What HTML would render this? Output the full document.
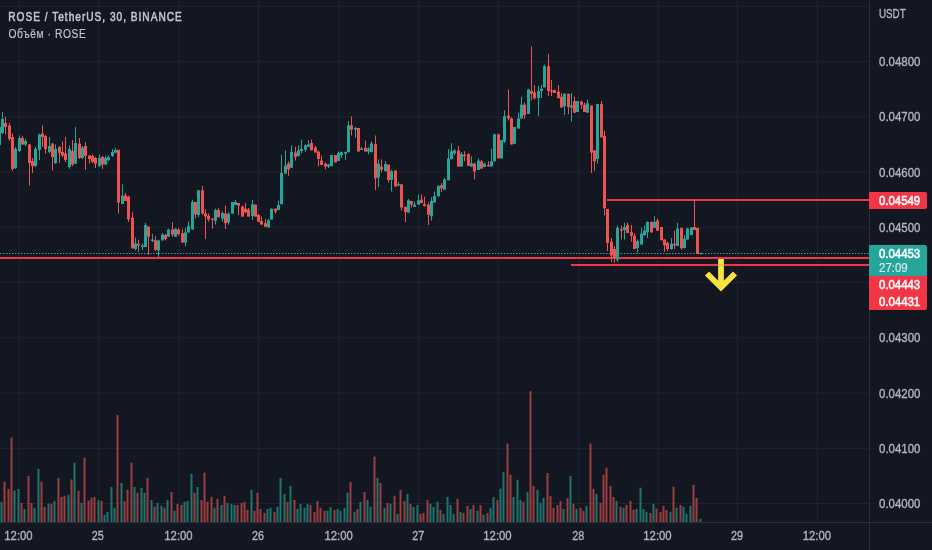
<!DOCTYPE html>
<html><head><meta charset="utf-8"><style>
html,body{margin:0;padding:0;background:#131722;width:932px;height:550px;overflow:hidden;position:relative}
svg{will-change:transform}
</style></head><body>
<svg width="932" height="550" viewBox="0 0 932 550" style="position:absolute;left:0;top:0"><rect x="18.55" y="0" width="1" height="522" fill="#1f2330"/><rect x="97.95" y="0" width="1" height="522" fill="#1f2330"/><rect x="178.55" y="0" width="1" height="522" fill="#1f2330"/><rect x="258.00" y="0" width="1" height="522" fill="#1f2330"/><rect x="338.70" y="0" width="1" height="522" fill="#1f2330"/><rect x="418.40" y="0" width="1" height="522" fill="#1f2330"/><rect x="497.55" y="0" width="1" height="522" fill="#1f2330"/><rect x="578.40" y="0" width="1" height="522" fill="#1f2330"/><rect x="657.55" y="0" width="1" height="522" fill="#1f2330"/><rect x="737.00" y="0" width="1" height="522" fill="#1f2330"/><rect x="817.00" y="0" width="1" height="522" fill="#1f2330"/><rect x="0" y="5.86" width="869" height="1" fill="#1f2330"/><rect x="0" y="61.10" width="869" height="1" fill="#1f2330"/><rect x="0" y="116.34" width="869" height="1" fill="#1f2330"/><rect x="0" y="171.58" width="869" height="1" fill="#1f2330"/><rect x="0" y="226.82" width="869" height="1" fill="#1f2330"/><rect x="0" y="282.06" width="869" height="1" fill="#1f2330"/><rect x="0" y="337.30" width="869" height="1" fill="#1f2330"/><rect x="0" y="392.54" width="869" height="1" fill="#1f2330"/><rect x="0" y="447.78" width="869" height="1" fill="#1f2330"/><rect x="0" y="503.02" width="869" height="1" fill="#1f2330"/><rect x="869" y="0" width="1" height="550" fill="#2a2e39"/><rect x="0" y="522" width="932" height="1" fill="#2a2e39"/><rect x="0.5" y="501.8" width="2" height="20.2" fill="#1f746b"/><rect x="3.5" y="481.6" width="2" height="40.4" fill="#9a3e3e"/><rect x="7.5" y="489.0" width="2" height="33.0" fill="#9a3e3e"/><rect x="10.5" y="437.5" width="2" height="84.5" fill="#9a3e3e"/><rect x="13.5" y="490.6" width="2" height="31.4" fill="#1f746b"/><rect x="17.5" y="489.0" width="2" height="33.0" fill="#1f746b"/><rect x="20.5" y="502.9" width="2" height="19.1" fill="#9a3e3e"/><rect x="23.5" y="509.0" width="2" height="13.0" fill="#1f746b"/><rect x="27.5" y="475.9" width="2" height="46.1" fill="#9a3e3e"/><rect x="30.5" y="502.9" width="2" height="19.1" fill="#9a3e3e"/><rect x="33.5" y="507.8" width="2" height="14.2" fill="#1f746b"/><rect x="37.5" y="468.9" width="2" height="53.1" fill="#1f746b"/><rect x="40.5" y="481.6" width="2" height="40.4" fill="#9a3e3e"/><rect x="43.5" y="507.0" width="2" height="15.0" fill="#9a3e3e"/><rect x="47.5" y="503.7" width="2" height="18.3" fill="#1f746b"/><rect x="50.5" y="503.7" width="2" height="18.3" fill="#9a3e3e"/><rect x="53.5" y="501.0" width="2" height="21.0" fill="#1f746b"/><rect x="57.5" y="477.9" width="2" height="44.1" fill="#9a3e3e"/><rect x="60.5" y="496.9" width="2" height="25.1" fill="#9a3e3e"/><rect x="63.5" y="495.9" width="2" height="26.1" fill="#9a3e3e"/><rect x="67.5" y="494.9" width="2" height="27.1" fill="#1f746b"/><rect x="70.5" y="479.5" width="2" height="42.5" fill="#9a3e3e"/><rect x="73.5" y="462.8" width="2" height="59.2" fill="#1f746b"/><rect x="77.5" y="490.6" width="2" height="31.4" fill="#9a3e3e"/><rect x="80.5" y="502.9" width="2" height="19.1" fill="#1f746b"/><rect x="83.5" y="457.6" width="2" height="64.4" fill="#9a3e3e"/><rect x="87.5" y="500.5" width="2" height="21.5" fill="#9a3e3e"/><rect x="90.5" y="497.7" width="2" height="24.3" fill="#9a3e3e"/><rect x="93.5" y="496.9" width="2" height="25.1" fill="#9a3e3e"/><rect x="97.5" y="500.0" width="2" height="22.0" fill="#1f746b"/><rect x="100.5" y="501.0" width="2" height="21.0" fill="#9a3e3e"/><rect x="103.5" y="514.9" width="2" height="7.1" fill="#1f746b"/><rect x="106.5" y="511.9" width="2" height="10.1" fill="#1f746b"/><rect x="110.5" y="487.0" width="2" height="35.0" fill="#1f746b"/><rect x="113.5" y="507.8" width="2" height="14.2" fill="#1f746b"/><rect x="116.5" y="415.1" width="2" height="106.9" fill="#9a3e3e"/><rect x="120.5" y="483.0" width="2" height="39.0" fill="#1f746b"/><rect x="123.5" y="501.0" width="2" height="21.0" fill="#9a3e3e"/><rect x="126.5" y="489.8" width="2" height="32.2" fill="#9a3e3e"/><rect x="130.5" y="462.8" width="2" height="59.2" fill="#9a3e3e"/><rect x="133.5" y="487.0" width="2" height="35.0" fill="#1f746b"/><rect x="136.5" y="492.8" width="2" height="29.2" fill="#9a3e3e"/><rect x="140.5" y="487.9" width="2" height="34.1" fill="#1f746b"/><rect x="143.5" y="492.8" width="2" height="29.2" fill="#1f746b"/><rect x="146.5" y="477.9" width="2" height="44.1" fill="#9a3e3e"/><rect x="150.5" y="500.0" width="2" height="22.0" fill="#1f746b"/><rect x="153.5" y="506.7" width="2" height="15.3" fill="#9a3e3e"/><rect x="156.5" y="502.9" width="2" height="19.1" fill="#1f746b"/><rect x="160.5" y="505.7" width="2" height="16.3" fill="#1f746b"/><rect x="163.5" y="507.8" width="2" height="14.2" fill="#9a3e3e"/><rect x="166.5" y="500.0" width="2" height="22.0" fill="#1f746b"/><rect x="170.5" y="492.0" width="2" height="30.0" fill="#9a3e3e"/><rect x="173.5" y="510.8" width="2" height="11.2" fill="#1f746b"/><rect x="176.5" y="504.0" width="2" height="18.0" fill="#9a3e3e"/><rect x="180.5" y="504.9" width="2" height="17.1" fill="#9a3e3e"/><rect x="183.5" y="501.8" width="2" height="20.2" fill="#1f746b"/><rect x="186.5" y="501.0" width="2" height="21.0" fill="#1f746b"/><rect x="190.5" y="473.8" width="2" height="48.2" fill="#1f746b"/><rect x="193.5" y="492.8" width="2" height="29.2" fill="#9a3e3e"/><rect x="196.5" y="487.0" width="2" height="35.0" fill="#1f746b"/><rect x="200.5" y="500.0" width="2" height="22.0" fill="#9a3e3e"/><rect x="203.5" y="472.6" width="2" height="49.4" fill="#9a3e3e"/><rect x="206.5" y="501.8" width="2" height="20.2" fill="#9a3e3e"/><rect x="210.5" y="496.9" width="2" height="25.1" fill="#9a3e3e"/><rect x="213.5" y="507.8" width="2" height="14.2" fill="#1f746b"/><rect x="216.5" y="498.8" width="2" height="23.2" fill="#9a3e3e"/><rect x="220.5" y="505.0" width="2" height="17.0" fill="#1f746b"/><rect x="223.5" y="495.9" width="2" height="26.1" fill="#9a3e3e"/><rect x="226.5" y="502.9" width="2" height="19.1" fill="#1f746b"/><rect x="230.5" y="503.7" width="2" height="18.3" fill="#1f746b"/><rect x="233.5" y="504.9" width="2" height="17.1" fill="#1f746b"/><rect x="236.5" y="504.9" width="2" height="17.1" fill="#9a3e3e"/><rect x="240.5" y="502.9" width="2" height="19.1" fill="#9a3e3e"/><rect x="243.5" y="501.8" width="2" height="20.2" fill="#9a3e3e"/><rect x="246.5" y="509.8" width="2" height="12.2" fill="#9a3e3e"/><rect x="250.5" y="489.8" width="2" height="32.2" fill="#1f746b"/><rect x="253.5" y="510.8" width="2" height="11.2" fill="#9a3e3e"/><rect x="256.5" y="492.8" width="2" height="29.2" fill="#9a3e3e"/><rect x="259.5" y="509.0" width="2" height="13.0" fill="#9a3e3e"/><rect x="263.5" y="513.0" width="2" height="9.0" fill="#9a3e3e"/><rect x="266.5" y="509.0" width="2" height="13.0" fill="#1f746b"/><rect x="269.5" y="507.8" width="2" height="14.2" fill="#1f746b"/><rect x="273.5" y="511.9" width="2" height="10.1" fill="#9a3e3e"/><rect x="276.5" y="506.7" width="2" height="15.3" fill="#1f746b"/><rect x="279.5" y="477.9" width="2" height="44.1" fill="#1f746b"/><rect x="283.5" y="493.9" width="2" height="28.1" fill="#1f746b"/><rect x="286.5" y="501.8" width="2" height="20.2" fill="#9a3e3e"/><rect x="289.5" y="486.0" width="2" height="36.0" fill="#1f746b"/><rect x="293.5" y="500.0" width="2" height="22.0" fill="#9a3e3e"/><rect x="296.5" y="509.0" width="2" height="13.0" fill="#1f746b"/><rect x="299.5" y="504.0" width="2" height="18.0" fill="#1f746b"/><rect x="303.5" y="507.8" width="2" height="14.2" fill="#1f746b"/><rect x="306.5" y="504.0" width="2" height="18.0" fill="#1f746b"/><rect x="309.5" y="504.9" width="2" height="17.1" fill="#9a3e3e"/><rect x="313.5" y="511.9" width="2" height="10.1" fill="#9a3e3e"/><rect x="316.5" y="501.0" width="2" height="21.0" fill="#9a3e3e"/><rect x="319.5" y="507.8" width="2" height="14.2" fill="#9a3e3e"/><rect x="323.5" y="510.8" width="2" height="11.2" fill="#9a3e3e"/><rect x="326.5" y="510.8" width="2" height="11.2" fill="#1f746b"/><rect x="329.5" y="507.0" width="2" height="15.0" fill="#1f746b"/><rect x="333.5" y="509.8" width="2" height="12.2" fill="#9a3e3e"/><rect x="336.5" y="509.0" width="2" height="13.0" fill="#1f746b"/><rect x="339.5" y="510.8" width="2" height="11.2" fill="#1f746b"/><rect x="343.5" y="507.8" width="2" height="14.2" fill="#1f746b"/><rect x="346.5" y="492.8" width="2" height="29.2" fill="#1f746b"/><rect x="349.5" y="482.0" width="2" height="40.0" fill="#9a3e3e"/><rect x="353.5" y="511.9" width="2" height="10.1" fill="#1f746b"/><rect x="356.5" y="509.0" width="2" height="13.0" fill="#9a3e3e"/><rect x="359.5" y="501.8" width="2" height="20.2" fill="#1f746b"/><rect x="363.5" y="492.0" width="2" height="30.0" fill="#9a3e3e"/><rect x="366.5" y="500.0" width="2" height="22.0" fill="#1f746b"/><rect x="369.5" y="506.7" width="2" height="15.3" fill="#1f746b"/><rect x="373.5" y="456.6" width="2" height="65.4" fill="#9a3e3e"/><rect x="376.5" y="477.9" width="2" height="44.1" fill="#1f746b"/><rect x="379.5" y="483.0" width="2" height="39.0" fill="#9a3e3e"/><rect x="383.5" y="507.8" width="2" height="14.2" fill="#1f746b"/><rect x="386.5" y="502.9" width="2" height="19.1" fill="#9a3e3e"/><rect x="389.5" y="503.7" width="2" height="18.3" fill="#1f746b"/><rect x="393.5" y="495.9" width="2" height="26.1" fill="#9a3e3e"/><rect x="396.5" y="514.0" width="2" height="8.0" fill="#1f746b"/><rect x="399.5" y="489.8" width="2" height="32.2" fill="#9a3e3e"/><rect x="403.5" y="501.0" width="2" height="21.0" fill="#9a3e3e"/><rect x="406.5" y="493.9" width="2" height="28.1" fill="#1f746b"/><rect x="409.5" y="504.0" width="2" height="18.0" fill="#9a3e3e"/><rect x="412.5" y="507.0" width="2" height="15.0" fill="#1f746b"/><rect x="416.5" y="504.9" width="2" height="17.1" fill="#1f746b"/><rect x="419.5" y="514.0" width="2" height="8.0" fill="#9a3e3e"/><rect x="422.5" y="513.0" width="2" height="9.0" fill="#9a3e3e"/><rect x="426.5" y="500.0" width="2" height="22.0" fill="#9a3e3e"/><rect x="429.5" y="503.7" width="2" height="18.3" fill="#1f746b"/><rect x="432.5" y="507.0" width="2" height="15.0" fill="#1f746b"/><rect x="436.5" y="501.8" width="2" height="20.2" fill="#1f746b"/><rect x="439.5" y="509.8" width="2" height="12.2" fill="#9a3e3e"/><rect x="442.5" y="514.0" width="2" height="8.0" fill="#1f746b"/><rect x="446.5" y="496.9" width="2" height="25.1" fill="#1f746b"/><rect x="449.5" y="505.0" width="2" height="17.0" fill="#1f746b"/><rect x="452.5" y="514.0" width="2" height="8.0" fill="#1f746b"/><rect x="456.5" y="498.8" width="2" height="23.2" fill="#9a3e3e"/><rect x="459.5" y="511.9" width="2" height="10.1" fill="#1f746b"/><rect x="462.5" y="513.0" width="2" height="9.0" fill="#9a3e3e"/><rect x="466.5" y="505.9" width="2" height="16.1" fill="#9a3e3e"/><rect x="469.5" y="509.0" width="2" height="13.0" fill="#1f746b"/><rect x="472.5" y="504.9" width="2" height="17.1" fill="#9a3e3e"/><rect x="476.5" y="510.8" width="2" height="11.2" fill="#1f746b"/><rect x="479.5" y="505.0" width="2" height="17.0" fill="#9a3e3e"/><rect x="482.5" y="514.9" width="2" height="7.1" fill="#1f746b"/><rect x="486.5" y="513.0" width="2" height="9.0" fill="#9a3e3e"/><rect x="489.5" y="507.8" width="2" height="14.2" fill="#1f746b"/><rect x="492.5" y="496.9" width="2" height="25.1" fill="#1f746b"/><rect x="496.5" y="500.0" width="2" height="22.0" fill="#9a3e3e"/><rect x="499.5" y="488.7" width="2" height="33.3" fill="#1f746b"/><rect x="502.5" y="471.8" width="2" height="50.2" fill="#1f746b"/><rect x="506.5" y="443.5" width="2" height="78.5" fill="#9a3e3e"/><rect x="509.5" y="474.8" width="2" height="47.2" fill="#9a3e3e"/><rect x="512.5" y="496.9" width="2" height="25.1" fill="#1f746b"/><rect x="516.5" y="479.7" width="2" height="42.3" fill="#1f746b"/><rect x="519.5" y="500.0" width="2" height="22.0" fill="#1f746b"/><rect x="522.5" y="501.8" width="2" height="20.2" fill="#9a3e3e"/><rect x="526.5" y="492.0" width="2" height="30.0" fill="#1f746b"/><rect x="529.5" y="391.2" width="2" height="130.8" fill="#9a3e3e"/><rect x="532.5" y="486.0" width="2" height="36.0" fill="#9a3e3e"/><rect x="536.5" y="489.8" width="2" height="32.2" fill="#1f746b"/><rect x="539.5" y="502.9" width="2" height="19.1" fill="#1f746b"/><rect x="542.5" y="498.0" width="2" height="24.0" fill="#1f746b"/><rect x="546.5" y="473.0" width="2" height="49.0" fill="#9a3e3e"/><rect x="549.5" y="496.0" width="2" height="26.0" fill="#9a3e3e"/><rect x="552.5" y="507.8" width="2" height="14.2" fill="#9a3e3e"/><rect x="556.5" y="505.0" width="2" height="17.0" fill="#9a3e3e"/><rect x="559.5" y="501.0" width="2" height="21.0" fill="#9a3e3e"/><rect x="562.5" y="509.0" width="2" height="13.0" fill="#1f746b"/><rect x="566.5" y="498.0" width="2" height="24.0" fill="#9a3e3e"/><rect x="569.5" y="475.9" width="2" height="46.1" fill="#1f746b"/><rect x="572.5" y="503.7" width="2" height="18.3" fill="#9a3e3e"/><rect x="575.5" y="509.0" width="2" height="13.0" fill="#1f746b"/><rect x="579.5" y="507.8" width="2" height="14.2" fill="#9a3e3e"/><rect x="582.5" y="510.8" width="2" height="11.2" fill="#9a3e3e"/><rect x="585.5" y="505.9" width="2" height="16.1" fill="#1f746b"/><rect x="589.5" y="443.5" width="2" height="78.5" fill="#9a3e3e"/><rect x="592.5" y="488.7" width="2" height="33.3" fill="#9a3e3e"/><rect x="595.5" y="493.9" width="2" height="28.1" fill="#1f746b"/><rect x="599.5" y="502.9" width="2" height="19.1" fill="#9a3e3e"/><rect x="602.5" y="474.8" width="2" height="47.2" fill="#9a3e3e"/><rect x="605.5" y="467.7" width="2" height="54.3" fill="#9a3e3e"/><rect x="609.5" y="486.0" width="2" height="36.0" fill="#9a3e3e"/><rect x="612.5" y="496.9" width="2" height="25.1" fill="#9a3e3e"/><rect x="615.5" y="501.0" width="2" height="21.0" fill="#1f746b"/><rect x="619.5" y="506.7" width="2" height="15.3" fill="#9a3e3e"/><rect x="622.5" y="507.8" width="2" height="14.2" fill="#1f746b"/><rect x="625.5" y="504.9" width="2" height="17.1" fill="#9a3e3e"/><rect x="629.5" y="501.0" width="2" height="21.0" fill="#9a3e3e"/><rect x="632.5" y="509.8" width="2" height="12.2" fill="#9a3e3e"/><rect x="635.5" y="509.0" width="2" height="13.0" fill="#1f746b"/><rect x="639.5" y="487.7" width="2" height="34.3" fill="#1f746b"/><rect x="642.5" y="509.0" width="2" height="13.0" fill="#1f746b"/><rect x="645.5" y="511.9" width="2" height="10.1" fill="#1f746b"/><rect x="649.5" y="513.0" width="2" height="9.0" fill="#9a3e3e"/><rect x="652.5" y="503.7" width="2" height="18.3" fill="#1f746b"/><rect x="655.5" y="508.7" width="2" height="13.3" fill="#9a3e3e"/><rect x="659.5" y="511.9" width="2" height="10.1" fill="#9a3e3e"/><rect x="662.5" y="505.9" width="2" height="16.1" fill="#9a3e3e"/><rect x="665.5" y="510.0" width="2" height="12.0" fill="#9a3e3e"/><rect x="669.5" y="511.9" width="2" height="10.1" fill="#1f746b"/><rect x="672.5" y="486.8" width="2" height="35.2" fill="#9a3e3e"/><rect x="675.5" y="507.8" width="2" height="14.2" fill="#1f746b"/><rect x="679.5" y="504.9" width="2" height="17.1" fill="#9a3e3e"/><rect x="682.5" y="506.8" width="2" height="15.2" fill="#1f746b"/><rect x="685.5" y="513.8" width="2" height="8.2" fill="#1f746b"/><rect x="689.5" y="505.9" width="2" height="16.1" fill="#1f746b"/><rect x="692.5" y="484.9" width="2" height="37.1" fill="#9a3e3e"/><rect x="695.5" y="497.9" width="2" height="24.1" fill="#9a3e3e"/><rect x="699.5" y="518.9" width="2" height="3.1" fill="#1f746b"/><line x1="0" y1="253.5" x2="869" y2="253.5" stroke="#26a69a" stroke-width="1" stroke-dasharray="1.5 1.5"/><rect x="0" y="257" width="869" height="2" fill="#f23645"/><rect x="571" y="264" width="298" height="2" fill="#f23645"/><rect x="607" y="199" width="262" height="2" fill="#f23645"/><rect x="-1" y="125.0" width="1" height="22.0" fill="#26a69a"/><rect x="-2" y="127.0" width="3" height="18.0" fill="#26a69a"/><rect x="2" y="112.0" width="1" height="22.0" fill="#26a69a"/><rect x="1" y="119.0" width="3" height="14.0" fill="#26a69a"/><rect x="5" y="117.0" width="1" height="17.5" fill="#ef5350"/><rect x="4" y="123.0" width="3" height="4.0" fill="#ef5350"/><rect x="9" y="123.0" width="1" height="18.0" fill="#ef5350"/><rect x="8" y="125.5" width="3" height="13.5" fill="#ef5350"/><rect x="12" y="133.6" width="1" height="37.4" fill="#ef5350"/><rect x="11" y="137.0" width="3" height="32.0" fill="#ef5350"/><rect x="15" y="147.0" width="1" height="22.0" fill="#26a69a"/><rect x="14" y="149.0" width="3" height="19.0" fill="#26a69a"/><rect x="19" y="135.5" width="1" height="16.5" fill="#26a69a"/><rect x="18" y="138.0" width="3" height="13.0" fill="#26a69a"/><rect x="22" y="136.0" width="1" height="9.0" fill="#ef5350"/><rect x="21" y="138.0" width="3" height="6.5" fill="#ef5350"/><rect x="25" y="139.0" width="1" height="7.0" fill="#26a69a"/><rect x="24" y="141.0" width="3" height="3.5" fill="#26a69a"/><rect x="29" y="144.0" width="1" height="41.5" fill="#ef5350"/><rect x="28" y="144.5" width="3" height="18.5" fill="#ef5350"/><rect x="32" y="158.0" width="1" height="15.0" fill="#ef5350"/><rect x="31" y="161.0" width="3" height="5.0" fill="#ef5350"/><rect x="35" y="147.0" width="1" height="20.0" fill="#26a69a"/><rect x="34" y="149.0" width="3" height="17.0" fill="#26a69a"/><rect x="39" y="133.6" width="1" height="26.4" fill="#26a69a"/><rect x="38" y="134.5" width="3" height="15.5" fill="#26a69a"/><rect x="42" y="125.5" width="1" height="21.5" fill="#ef5350"/><rect x="41" y="133.6" width="3" height="3.4" fill="#ef5350"/><rect x="45" y="135.0" width="1" height="18.6" fill="#ef5350"/><rect x="44" y="136.0" width="3" height="13.0" fill="#ef5350"/><rect x="49" y="137.0" width="1" height="16.0" fill="#26a69a"/><rect x="48" y="146.0" width="3" height="6.0" fill="#26a69a"/><rect x="52" y="143.0" width="1" height="27.5" fill="#ef5350"/><rect x="51" y="143.6" width="3" height="13.4" fill="#ef5350"/><rect x="55" y="144.5" width="1" height="19.5" fill="#26a69a"/><rect x="54" y="149.0" width="3" height="14.0" fill="#26a69a"/><rect x="59" y="146.0" width="1" height="17.0" fill="#ef5350"/><rect x="58" y="147.0" width="3" height="6.0" fill="#ef5350"/><rect x="62" y="141.5" width="1" height="15.5" fill="#ef5350"/><rect x="61" y="152.0" width="3" height="3.5" fill="#ef5350"/><rect x="65" y="137.0" width="1" height="25.0" fill="#ef5350"/><rect x="64" y="153.6" width="3" height="6.4" fill="#ef5350"/><rect x="69" y="145.5" width="1" height="23.2" fill="#26a69a"/><rect x="68" y="149.0" width="3" height="18.0" fill="#26a69a"/><rect x="72" y="140.0" width="1" height="26.0" fill="#ef5350"/><rect x="71" y="151.0" width="3" height="13.5" fill="#ef5350"/><rect x="75" y="127.0" width="1" height="37.0" fill="#26a69a"/><rect x="74" y="143.0" width="3" height="20.6" fill="#26a69a"/><rect x="79" y="138.0" width="1" height="21.0" fill="#ef5350"/><rect x="78" y="143.6" width="3" height="14.4" fill="#ef5350"/><rect x="82" y="146.0" width="1" height="13.0" fill="#26a69a"/><rect x="81" y="147.6" width="3" height="10.4" fill="#26a69a"/><rect x="85" y="142.0" width="1" height="28.0" fill="#ef5350"/><rect x="84" y="146.0" width="3" height="10.0" fill="#ef5350"/><rect x="89" y="155.0" width="1" height="8.6" fill="#ef5350"/><rect x="88" y="155.5" width="3" height="3.5" fill="#ef5350"/><rect x="92" y="154.5" width="1" height="8.5" fill="#ef5350"/><rect x="91" y="156.0" width="3" height="6.0" fill="#ef5350"/><rect x="95" y="157.0" width="1" height="11.0" fill="#ef5350"/><rect x="94" y="158.0" width="3" height="5.6" fill="#ef5350"/><rect x="99" y="154.5" width="1" height="12.5" fill="#26a69a"/><rect x="98" y="158.0" width="3" height="8.0" fill="#26a69a"/><rect x="102" y="156.0" width="1" height="13.0" fill="#ef5350"/><rect x="101" y="157.0" width="3" height="7.5" fill="#ef5350"/><rect x="105" y="156.0" width="1" height="9.0" fill="#26a69a"/><rect x="104" y="158.0" width="3" height="6.5" fill="#26a69a"/><rect x="108" y="155.5" width="1" height="5.5" fill="#26a69a"/><rect x="107" y="157.0" width="3" height="3.0" fill="#26a69a"/><rect x="112" y="149.0" width="1" height="8.0" fill="#26a69a"/><rect x="111" y="152.0" width="3" height="4.0" fill="#26a69a"/><rect x="115" y="148.0" width="1" height="5.0" fill="#26a69a"/><rect x="114" y="150.0" width="3" height="2.7" fill="#26a69a"/><rect x="118" y="149.8" width="1" height="63.7" fill="#ef5350"/><rect x="117" y="149.8" width="3" height="52.7" fill="#ef5350"/><rect x="122" y="184.4" width="1" height="19.6" fill="#26a69a"/><rect x="121" y="195.7" width="3" height="8.3" fill="#26a69a"/><rect x="125" y="192.8" width="1" height="8.2" fill="#ef5350"/><rect x="124" y="195.3" width="3" height="5.7" fill="#ef5350"/><rect x="128" y="195.7" width="1" height="26.3" fill="#ef5350"/><rect x="127" y="196.7" width="3" height="22.6" fill="#ef5350"/><rect x="132" y="212.0" width="1" height="36.4" fill="#ef5350"/><rect x="131" y="217.8" width="3" height="30.6" fill="#ef5350"/><rect x="135" y="237.5" width="1" height="13.0" fill="#26a69a"/><rect x="134" y="243.3" width="3" height="5.7" fill="#26a69a"/><rect x="138" y="239.6" width="1" height="12.4" fill="#ef5350"/><rect x="137" y="244.0" width="3" height="1.5" fill="#ef5350"/><rect x="142" y="243.3" width="1" height="6.5" fill="#26a69a"/><rect x="141" y="245.5" width="3" height="1.5" fill="#26a69a"/><rect x="145" y="222.9" width="1" height="24.1" fill="#26a69a"/><rect x="144" y="225.0" width="3" height="22.0" fill="#26a69a"/><rect x="148" y="226.5" width="1" height="28.5" fill="#ef5350"/><rect x="147" y="226.5" width="3" height="10.2" fill="#ef5350"/><rect x="152" y="233.8" width="1" height="8.2" fill="#26a69a"/><rect x="151" y="239.6" width="3" height="1.4" fill="#26a69a"/><rect x="155" y="236.0" width="1" height="15.0" fill="#ef5350"/><rect x="154" y="240.4" width="3" height="9.4" fill="#ef5350"/><rect x="158" y="239.6" width="1" height="17.4" fill="#26a69a"/><rect x="157" y="240.4" width="3" height="10.1" fill="#26a69a"/><rect x="162" y="233.0" width="1" height="7.4" fill="#26a69a"/><rect x="161" y="234.5" width="3" height="5.9" fill="#26a69a"/><rect x="165" y="233.8" width="1" height="6.6" fill="#ef5350"/><rect x="164" y="235.0" width="3" height="4.0" fill="#ef5350"/><rect x="168" y="228.7" width="1" height="8.3" fill="#26a69a"/><rect x="167" y="229.5" width="3" height="7.2" fill="#26a69a"/><rect x="172" y="222.3" width="1" height="14.5" fill="#ef5350"/><rect x="171" y="229.5" width="3" height="5.1" fill="#ef5350"/><rect x="175" y="228.0" width="1" height="9.0" fill="#26a69a"/><rect x="174" y="228.8" width="3" height="8.0" fill="#26a69a"/><rect x="178" y="228.0" width="1" height="7.4" fill="#ef5350"/><rect x="177" y="229.5" width="3" height="4.5" fill="#ef5350"/><rect x="182" y="228.8" width="1" height="13.8" fill="#ef5350"/><rect x="181" y="233.2" width="3" height="9.4" fill="#ef5350"/><rect x="185" y="228.0" width="1" height="18.3" fill="#26a69a"/><rect x="184" y="232.5" width="3" height="10.1" fill="#26a69a"/><rect x="188" y="221.5" width="1" height="11.0" fill="#26a69a"/><rect x="187" y="226.0" width="3" height="6.5" fill="#26a69a"/><rect x="192" y="199.7" width="1" height="29.8" fill="#26a69a"/><rect x="191" y="201.9" width="3" height="27.6" fill="#26a69a"/><rect x="195" y="201.9" width="1" height="16.7" fill="#ef5350"/><rect x="194" y="201.9" width="3" height="12.4" fill="#ef5350"/><rect x="198" y="190.0" width="1" height="27.2" fill="#26a69a"/><rect x="197" y="190.3" width="3" height="24.7" fill="#26a69a"/><rect x="202" y="185.9" width="1" height="29.1" fill="#ef5350"/><rect x="201" y="190.3" width="3" height="23.2" fill="#ef5350"/><rect x="205" y="209.2" width="1" height="29.8" fill="#ef5350"/><rect x="204" y="213.5" width="3" height="3.0" fill="#ef5350"/><rect x="208" y="213.5" width="1" height="8.0" fill="#ef5350"/><rect x="207" y="215.7" width="3" height="3.7" fill="#ef5350"/><rect x="212" y="218.0" width="1" height="10.8" fill="#ef5350"/><rect x="211" y="218.6" width="3" height="1.0" fill="#ef5350"/><rect x="215" y="208.5" width="1" height="16.0" fill="#26a69a"/><rect x="214" y="210.0" width="3" height="10.8" fill="#26a69a"/><rect x="218" y="207.7" width="1" height="9.7" fill="#ef5350"/><rect x="217" y="210.0" width="3" height="7.2" fill="#ef5350"/><rect x="222" y="211.5" width="1" height="10.2" fill="#26a69a"/><rect x="221" y="213.0" width="3" height="5.6" fill="#26a69a"/><rect x="225" y="205.7" width="1" height="23.3" fill="#ef5350"/><rect x="224" y="213.7" width="3" height="9.5" fill="#ef5350"/><rect x="228" y="212.3" width="1" height="12.3" fill="#26a69a"/><rect x="227" y="213.7" width="3" height="8.8" fill="#26a69a"/><rect x="232" y="202.0" width="1" height="11.7" fill="#26a69a"/><rect x="231" y="202.0" width="3" height="11.7" fill="#26a69a"/><rect x="235" y="200.0" width="1" height="5.0" fill="#26a69a"/><rect x="234" y="202.0" width="3" height="3.0" fill="#26a69a"/><rect x="238" y="203.0" width="1" height="12.0" fill="#ef5350"/><rect x="237" y="203.0" width="3" height="2.7" fill="#ef5350"/><rect x="242" y="205.7" width="1" height="10.9" fill="#ef5350"/><rect x="241" y="206.5" width="3" height="10.1" fill="#ef5350"/><rect x="245" y="202.8" width="1" height="10.2" fill="#ef5350"/><rect x="244" y="208.6" width="3" height="3.7" fill="#ef5350"/><rect x="248" y="208.0" width="1" height="8.6" fill="#ef5350"/><rect x="247" y="209.4" width="3" height="7.2" fill="#ef5350"/><rect x="252" y="200.0" width="1" height="20.0" fill="#26a69a"/><rect x="251" y="204.3" width="3" height="11.7" fill="#26a69a"/><rect x="255" y="204.6" width="1" height="12.0" fill="#ef5350"/><rect x="254" y="204.6" width="3" height="12.0" fill="#ef5350"/><rect x="258" y="213.7" width="1" height="8.0" fill="#ef5350"/><rect x="257" y="215.0" width="3" height="6.7" fill="#ef5350"/><rect x="261" y="216.6" width="1" height="8.0" fill="#ef5350"/><rect x="260" y="221.0" width="3" height="3.6" fill="#ef5350"/><rect x="265" y="218.8" width="1" height="8.0" fill="#ef5350"/><rect x="264" y="223.2" width="3" height="3.6" fill="#ef5350"/><rect x="268" y="218.8" width="1" height="8.7" fill="#26a69a"/><rect x="267" y="220.3" width="3" height="7.2" fill="#26a69a"/><rect x="271" y="208.6" width="1" height="10.9" fill="#26a69a"/><rect x="270" y="208.6" width="3" height="10.9" fill="#26a69a"/><rect x="275" y="208.6" width="1" height="5.1" fill="#ef5350"/><rect x="274" y="208.6" width="3" height="2.9" fill="#ef5350"/><rect x="278" y="200.5" width="1" height="9.5" fill="#26a69a"/><rect x="277" y="205.0" width="3" height="5.0" fill="#26a69a"/><rect x="281" y="154.7" width="1" height="49.5" fill="#26a69a"/><rect x="280" y="173.0" width="3" height="31.2" fill="#26a69a"/><rect x="285" y="150.4" width="1" height="23.2" fill="#26a69a"/><rect x="284" y="165.6" width="3" height="8.0" fill="#26a69a"/><rect x="288" y="161.3" width="1" height="14.5" fill="#ef5350"/><rect x="287" y="163.5" width="3" height="5.8" fill="#ef5350"/><rect x="291" y="145.3" width="1" height="22.5" fill="#26a69a"/><rect x="290" y="151.8" width="3" height="16.0" fill="#26a69a"/><rect x="295" y="146.7" width="1" height="13.8" fill="#ef5350"/><rect x="294" y="152.5" width="3" height="4.5" fill="#ef5350"/><rect x="298" y="145.3" width="1" height="10.9" fill="#26a69a"/><rect x="297" y="150.4" width="3" height="5.8" fill="#26a69a"/><rect x="301" y="139.5" width="1" height="13.8" fill="#26a69a"/><rect x="300" y="148.9" width="3" height="2.1" fill="#26a69a"/><rect x="305" y="144.5" width="1" height="7.3" fill="#26a69a"/><rect x="304" y="145.3" width="3" height="4.3" fill="#26a69a"/><rect x="308" y="140.2" width="1" height="6.5" fill="#26a69a"/><rect x="307" y="144.5" width="3" height="2.2" fill="#26a69a"/><rect x="311" y="139.5" width="1" height="10.9" fill="#ef5350"/><rect x="310" y="143.0" width="3" height="7.4" fill="#ef5350"/><rect x="315" y="146.0" width="1" height="6.5" fill="#ef5350"/><rect x="314" y="147.5" width="3" height="5.0" fill="#ef5350"/><rect x="318" y="150.4" width="1" height="16.0" fill="#ef5350"/><rect x="317" y="151.8" width="3" height="7.2" fill="#ef5350"/><rect x="321" y="155.5" width="1" height="9.5" fill="#ef5350"/><rect x="320" y="160.5" width="3" height="4.5" fill="#ef5350"/><rect x="325" y="162.7" width="1" height="6.6" fill="#ef5350"/><rect x="324" y="163.5" width="3" height="2.9" fill="#ef5350"/><rect x="328" y="163.8" width="1" height="4.2" fill="#26a69a"/><rect x="327" y="164.5" width="3" height="2.2" fill="#26a69a"/><rect x="331" y="154.7" width="1" height="11.7" fill="#26a69a"/><rect x="330" y="155.0" width="3" height="11.0" fill="#26a69a"/><rect x="335" y="155.0" width="1" height="7.4" fill="#ef5350"/><rect x="334" y="155.0" width="3" height="7.4" fill="#ef5350"/><rect x="338" y="151.5" width="1" height="9.5" fill="#26a69a"/><rect x="337" y="153.0" width="3" height="8.0" fill="#26a69a"/><rect x="341" y="151.5" width="1" height="6.5" fill="#26a69a"/><rect x="340" y="152.2" width="3" height="2.8" fill="#26a69a"/><rect x="345" y="151.5" width="1" height="8.5" fill="#26a69a"/><rect x="344" y="152.0" width="3" height="1.6" fill="#26a69a"/><rect x="348" y="121.0" width="1" height="31.2" fill="#26a69a"/><rect x="347" y="125.3" width="3" height="26.9" fill="#26a69a"/><rect x="351" y="116.5" width="1" height="19.0" fill="#ef5350"/><rect x="350" y="125.3" width="3" height="4.3" fill="#ef5350"/><rect x="355" y="126.7" width="1" height="10.9" fill="#26a69a"/><rect x="354" y="128.0" width="3" height="1.6" fill="#26a69a"/><rect x="358" y="128.0" width="1" height="23.5" fill="#ef5350"/><rect x="357" y="128.0" width="3" height="23.5" fill="#ef5350"/><rect x="361" y="147.0" width="1" height="3.0" fill="#26a69a"/><rect x="360" y="148.5" width="3" height="1.5" fill="#26a69a"/><rect x="365" y="140.5" width="1" height="11.0" fill="#ef5350"/><rect x="364" y="147.8" width="3" height="3.7" fill="#ef5350"/><rect x="368" y="147.0" width="1" height="7.4" fill="#26a69a"/><rect x="367" y="148.5" width="3" height="3.0" fill="#26a69a"/><rect x="371" y="141.3" width="1" height="10.9" fill="#26a69a"/><rect x="370" y="143.5" width="3" height="8.7" fill="#26a69a"/><rect x="375" y="135.5" width="1" height="54.5" fill="#ef5350"/><rect x="374" y="144.2" width="3" height="34.2" fill="#ef5350"/><rect x="378" y="159.5" width="1" height="27.5" fill="#26a69a"/><rect x="377" y="163.8" width="3" height="13.7" fill="#26a69a"/><rect x="381" y="159.5" width="1" height="13.1" fill="#ef5350"/><rect x="380" y="166.7" width="3" height="3.0" fill="#ef5350"/><rect x="385" y="161.0" width="1" height="10.2" fill="#26a69a"/><rect x="384" y="164.0" width="3" height="7.2" fill="#26a69a"/><rect x="388" y="164.6" width="1" height="18.2" fill="#ef5350"/><rect x="387" y="164.6" width="3" height="15.4" fill="#ef5350"/><rect x="391" y="169.7" width="1" height="21.8" fill="#26a69a"/><rect x="390" y="171.2" width="3" height="8.8" fill="#26a69a"/><rect x="395" y="170.5" width="1" height="16.0" fill="#ef5350"/><rect x="394" y="170.5" width="3" height="16.0" fill="#ef5350"/><rect x="398" y="182.0" width="1" height="3.7" fill="#26a69a"/><rect x="397" y="184.3" width="3" height="1.4" fill="#26a69a"/><rect x="401" y="184.3" width="1" height="26.2" fill="#ef5350"/><rect x="400" y="184.3" width="3" height="23.2" fill="#ef5350"/><rect x="405" y="206.8" width="1" height="15.2" fill="#ef5350"/><rect x="404" y="206.8" width="3" height="5.2" fill="#ef5350"/><rect x="408" y="198.8" width="1" height="13.8" fill="#26a69a"/><rect x="407" y="200.3" width="3" height="12.3" fill="#26a69a"/><rect x="411" y="201.0" width="1" height="6.5" fill="#ef5350"/><rect x="410" y="201.0" width="3" height="3.6" fill="#ef5350"/><rect x="414" y="201.7" width="1" height="5.3" fill="#26a69a"/><rect x="413" y="204.6" width="3" height="2.2" fill="#26a69a"/><rect x="418" y="194.5" width="1" height="10.1" fill="#26a69a"/><rect x="417" y="200.3" width="3" height="4.3" fill="#26a69a"/><rect x="421" y="194.5" width="1" height="8.7" fill="#ef5350"/><rect x="420" y="199.5" width="3" height="3.7" fill="#ef5350"/><rect x="424" y="196.6" width="1" height="9.9" fill="#ef5350"/><rect x="423" y="204.0" width="3" height="2.0" fill="#ef5350"/><rect x="428" y="202.5" width="1" height="22.5" fill="#ef5350"/><rect x="427" y="204.6" width="3" height="10.2" fill="#ef5350"/><rect x="431" y="197.4" width="1" height="23.2" fill="#26a69a"/><rect x="430" y="201.0" width="3" height="15.3" fill="#26a69a"/><rect x="434" y="191.5" width="1" height="11.0" fill="#26a69a"/><rect x="433" y="196.0" width="3" height="6.5" fill="#26a69a"/><rect x="438" y="185.4" width="1" height="11.6" fill="#26a69a"/><rect x="437" y="186.0" width="3" height="10.0" fill="#26a69a"/><rect x="441" y="183.2" width="1" height="8.8" fill="#ef5350"/><rect x="440" y="185.4" width="3" height="2.9" fill="#ef5350"/><rect x="444" y="178.0" width="1" height="11.7" fill="#26a69a"/><rect x="443" y="179.5" width="3" height="10.2" fill="#26a69a"/><rect x="448" y="149.0" width="1" height="31.3" fill="#26a69a"/><rect x="447" y="158.5" width="3" height="21.8" fill="#26a69a"/><rect x="451" y="143.2" width="1" height="16.0" fill="#26a69a"/><rect x="450" y="151.2" width="3" height="8.0" fill="#26a69a"/><rect x="454" y="149.0" width="1" height="5.8" fill="#26a69a"/><rect x="453" y="150.5" width="3" height="2.9" fill="#26a69a"/><rect x="458" y="146.0" width="1" height="20.5" fill="#ef5350"/><rect x="457" y="150.5" width="3" height="16.0" fill="#ef5350"/><rect x="461" y="152.0" width="1" height="14.5" fill="#26a69a"/><rect x="460" y="154.0" width="3" height="12.5" fill="#26a69a"/><rect x="464" y="151.2" width="1" height="10.2" fill="#ef5350"/><rect x="463" y="154.8" width="3" height="1.5" fill="#ef5350"/><rect x="468" y="153.4" width="1" height="12.3" fill="#ef5350"/><rect x="467" y="154.0" width="3" height="11.7" fill="#ef5350"/><rect x="471" y="156.3" width="1" height="10.7" fill="#26a69a"/><rect x="470" y="163.5" width="3" height="3.0" fill="#26a69a"/><rect x="474" y="162.8" width="1" height="16.7" fill="#ef5350"/><rect x="473" y="163.5" width="3" height="8.0" fill="#ef5350"/><rect x="478" y="158.5" width="1" height="11.5" fill="#26a69a"/><rect x="477" y="160.6" width="3" height="9.4" fill="#26a69a"/><rect x="481" y="160.0" width="1" height="8.6" fill="#ef5350"/><rect x="480" y="161.4" width="3" height="7.2" fill="#ef5350"/><rect x="484" y="162.8" width="1" height="4.4" fill="#26a69a"/><rect x="483" y="163.5" width="3" height="3.5" fill="#26a69a"/><rect x="488" y="161.3" width="1" height="5.2" fill="#ef5350"/><rect x="487" y="165.0" width="3" height="1.4" fill="#ef5350"/><rect x="491" y="148.9" width="1" height="17.5" fill="#26a69a"/><rect x="490" y="161.3" width="3" height="5.1" fill="#26a69a"/><rect x="494" y="133.6" width="1" height="27.7" fill="#26a69a"/><rect x="493" y="134.4" width="3" height="26.9" fill="#26a69a"/><rect x="498" y="133.6" width="1" height="24.8" fill="#ef5350"/><rect x="497" y="134.4" width="3" height="24.0" fill="#ef5350"/><rect x="501" y="140.2" width="1" height="18.2" fill="#26a69a"/><rect x="500" y="140.2" width="3" height="18.2" fill="#26a69a"/><rect x="504" y="110.4" width="1" height="32.6" fill="#26a69a"/><rect x="503" y="116.2" width="3" height="25.4" fill="#26a69a"/><rect x="508" y="89.5" width="1" height="31.0" fill="#ef5350"/><rect x="507" y="115.6" width="3" height="2.9" fill="#ef5350"/><rect x="511" y="117.6" width="1" height="26.9" fill="#ef5350"/><rect x="510" y="118.4" width="3" height="26.1" fill="#ef5350"/><rect x="514" y="127.0" width="1" height="16.8" fill="#26a69a"/><rect x="513" y="127.0" width="3" height="16.8" fill="#26a69a"/><rect x="518" y="112.7" width="1" height="15.8" fill="#26a69a"/><rect x="517" y="118.4" width="3" height="10.1" fill="#26a69a"/><rect x="521" y="96.7" width="1" height="21.8" fill="#26a69a"/><rect x="520" y="104.7" width="3" height="13.8" fill="#26a69a"/><rect x="524" y="102.5" width="1" height="16.5" fill="#ef5350"/><rect x="523" y="104.7" width="3" height="10.3" fill="#ef5350"/><rect x="528" y="88.7" width="1" height="25.3" fill="#26a69a"/><rect x="527" y="89.5" width="3" height="24.5" fill="#26a69a"/><rect x="531" y="46.5" width="1" height="53.9" fill="#ef5350"/><rect x="530" y="91.0" width="3" height="2.8" fill="#ef5350"/><rect x="534" y="85.0" width="1" height="14.6" fill="#ef5350"/><rect x="533" y="92.4" width="3" height="5.8" fill="#ef5350"/><rect x="538" y="85.8" width="1" height="30.6" fill="#26a69a"/><rect x="537" y="91.0" width="3" height="7.0" fill="#26a69a"/><rect x="541" y="85.0" width="1" height="13.0" fill="#26a69a"/><rect x="540" y="88.7" width="3" height="2.3" fill="#26a69a"/><rect x="544" y="64.7" width="1" height="22.6" fill="#26a69a"/><rect x="543" y="66.2" width="3" height="21.1" fill="#26a69a"/><rect x="548" y="53.8" width="1" height="42.2" fill="#ef5350"/><rect x="547" y="66.2" width="3" height="24.8" fill="#ef5350"/><rect x="551" y="80.0" width="1" height="16.0" fill="#ef5350"/><rect x="550" y="90.2" width="3" height="1.4" fill="#ef5350"/><rect x="554" y="89.5" width="1" height="3.5" fill="#ef5350"/><rect x="553" y="90.2" width="3" height="2.8" fill="#ef5350"/><rect x="558" y="85.0" width="1" height="13.2" fill="#ef5350"/><rect x="557" y="91.6" width="3" height="6.6" fill="#ef5350"/><rect x="561" y="93.0" width="1" height="14.6" fill="#ef5350"/><rect x="560" y="96.7" width="3" height="10.9" fill="#ef5350"/><rect x="564" y="93.0" width="1" height="22.0" fill="#26a69a"/><rect x="563" y="93.8" width="3" height="12.4" fill="#26a69a"/><rect x="568" y="93.8" width="1" height="20.4" fill="#ef5350"/><rect x="567" y="93.8" width="3" height="13.2" fill="#ef5350"/><rect x="571" y="93.0" width="1" height="28.5" fill="#26a69a"/><rect x="570" y="105.5" width="3" height="2.1" fill="#26a69a"/><rect x="574" y="96.7" width="1" height="16.0" fill="#ef5350"/><rect x="573" y="101.0" width="3" height="11.7" fill="#ef5350"/><rect x="577" y="101.0" width="1" height="11.0" fill="#26a69a"/><rect x="576" y="101.0" width="3" height="11.0" fill="#26a69a"/><rect x="581" y="100.4" width="1" height="8.6" fill="#ef5350"/><rect x="580" y="101.8" width="3" height="2.9" fill="#ef5350"/><rect x="584" y="102.5" width="1" height="9.5" fill="#ef5350"/><rect x="583" y="104.7" width="3" height="7.3" fill="#ef5350"/><rect x="587" y="99.6" width="1" height="13.1" fill="#26a69a"/><rect x="586" y="103.3" width="3" height="9.4" fill="#26a69a"/><rect x="591" y="105.5" width="1" height="67.5" fill="#ef5350"/><rect x="590" y="105.5" width="3" height="47.0" fill="#ef5350"/><rect x="594" y="150.4" width="1" height="20.3" fill="#ef5350"/><rect x="593" y="150.4" width="3" height="10.9" fill="#ef5350"/><rect x="597" y="104.0" width="1" height="59.5" fill="#26a69a"/><rect x="596" y="104.0" width="3" height="55.0" fill="#26a69a"/><rect x="601" y="101.0" width="1" height="36.3" fill="#ef5350"/><rect x="600" y="104.0" width="3" height="33.3" fill="#ef5350"/><rect x="604" y="130.7" width="1" height="84.8" fill="#ef5350"/><rect x="603" y="135.8" width="3" height="72.4" fill="#ef5350"/><rect x="607" y="209.0" width="1" height="42.0" fill="#ef5350"/><rect x="606" y="209.0" width="3" height="34.0" fill="#ef5350"/><rect x="611" y="238.0" width="1" height="24.0" fill="#ef5350"/><rect x="610" y="241.6" width="3" height="13.9" fill="#ef5350"/><rect x="614" y="246.0" width="1" height="16.7" fill="#ef5350"/><rect x="613" y="249.0" width="3" height="9.4" fill="#ef5350"/><rect x="617" y="225.6" width="1" height="36.4" fill="#26a69a"/><rect x="616" y="227.8" width="3" height="32.0" fill="#26a69a"/><rect x="621" y="225.6" width="1" height="13.9" fill="#ef5350"/><rect x="620" y="229.3" width="3" height="1.4" fill="#ef5350"/><rect x="624" y="222.7" width="1" height="16.8" fill="#26a69a"/><rect x="623" y="227.0" width="3" height="3.0" fill="#26a69a"/><rect x="627" y="222.7" width="1" height="10.3" fill="#ef5350"/><rect x="626" y="225.0" width="3" height="8.0" fill="#ef5350"/><rect x="631" y="225.0" width="1" height="16.6" fill="#ef5350"/><rect x="630" y="232.2" width="3" height="3.6" fill="#ef5350"/><rect x="634" y="233.6" width="1" height="15.4" fill="#ef5350"/><rect x="633" y="235.8" width="3" height="13.2" fill="#ef5350"/><rect x="637" y="239.5" width="1" height="13.0" fill="#26a69a"/><rect x="636" y="241.0" width="3" height="7.0" fill="#26a69a"/><rect x="641" y="227.8" width="1" height="16.7" fill="#26a69a"/><rect x="640" y="233.6" width="3" height="10.9" fill="#26a69a"/><rect x="644" y="225.6" width="1" height="10.4" fill="#26a69a"/><rect x="643" y="230.7" width="3" height="4.3" fill="#26a69a"/><rect x="647" y="221.3" width="1" height="16.7" fill="#26a69a"/><rect x="646" y="222.0" width="3" height="10.2" fill="#26a69a"/><rect x="651" y="221.3" width="1" height="11.7" fill="#ef5350"/><rect x="650" y="222.0" width="3" height="10.2" fill="#ef5350"/><rect x="654" y="216.2" width="1" height="11.6" fill="#26a69a"/><rect x="653" y="222.0" width="3" height="5.8" fill="#26a69a"/><rect x="657" y="218.4" width="1" height="12.3" fill="#ef5350"/><rect x="656" y="220.5" width="3" height="10.2" fill="#ef5350"/><rect x="661" y="227.0" width="1" height="13.2" fill="#ef5350"/><rect x="660" y="227.0" width="3" height="13.2" fill="#ef5350"/><rect x="664" y="239.5" width="1" height="12.3" fill="#ef5350"/><rect x="663" y="239.5" width="3" height="5.8" fill="#ef5350"/><rect x="667" y="241.6" width="1" height="9.4" fill="#ef5350"/><rect x="666" y="243.0" width="3" height="6.0" fill="#ef5350"/><rect x="671" y="238.0" width="1" height="12.0" fill="#26a69a"/><rect x="670" y="243.8" width="3" height="5.2" fill="#26a69a"/><rect x="674" y="230.7" width="1" height="18.3" fill="#ef5350"/><rect x="673" y="243.8" width="3" height="1.5" fill="#ef5350"/><rect x="677" y="222.7" width="1" height="23.3" fill="#26a69a"/><rect x="676" y="228.5" width="3" height="17.5" fill="#26a69a"/><rect x="681" y="227.8" width="1" height="21.8" fill="#ef5350"/><rect x="680" y="227.8" width="3" height="20.4" fill="#ef5350"/><rect x="684" y="235.0" width="1" height="13.2" fill="#26a69a"/><rect x="683" y="238.7" width="3" height="9.5" fill="#26a69a"/><rect x="687" y="227.8" width="1" height="11.7" fill="#26a69a"/><rect x="686" y="228.5" width="3" height="11.0" fill="#26a69a"/><rect x="691" y="227.0" width="1" height="8.0" fill="#26a69a"/><rect x="690" y="227.5" width="3" height="7.5" fill="#26a69a"/><rect x="694" y="199.5" width="1" height="30.5" fill="#ef5350"/><rect x="693" y="227.0" width="3" height="3.0" fill="#ef5350"/><rect x="697" y="227.8" width="1" height="26.2" fill="#ef5350"/><rect x="696" y="227.8" width="3" height="26.2" fill="#ef5350"/><rect x="700.06" y="252.8" width="2" height="1.6" fill="#26a69a"/><g stroke="#f7e23e" stroke-width="5.8" fill="none" stroke-linecap="butt" stroke-linejoin="miter"><line x1="721" y1="259" x2="721" y2="285"/><polyline points="707,273.5 721,287.5 735,273.5"/></g><text x="879" y="18.2" font-family='"Liberation Sans", sans-serif' font-size="12.5" font-weight="normal" fill="#b2b5be" text-anchor="start" textLength="26.7" lengthAdjust="spacingAndGlyphs" stroke="#b2b5be" stroke-width="0.35">USDT</text><text x="879" y="66.20" font-family='"Liberation Sans", sans-serif' font-size="12.5" font-weight="normal" fill="#b2b5be" text-anchor="start" textLength="41.5" lengthAdjust="spacingAndGlyphs" stroke="#b2b5be" stroke-width="0.35">0.04800</text><text x="879" y="121.44" font-family='"Liberation Sans", sans-serif' font-size="12.5" font-weight="normal" fill="#b2b5be" text-anchor="start" textLength="41.5" lengthAdjust="spacingAndGlyphs" stroke="#b2b5be" stroke-width="0.35">0.04700</text><text x="879" y="176.68" font-family='"Liberation Sans", sans-serif' font-size="12.5" font-weight="normal" fill="#b2b5be" text-anchor="start" textLength="41.5" lengthAdjust="spacingAndGlyphs" stroke="#b2b5be" stroke-width="0.35">0.04600</text><text x="879" y="231.92" font-family='"Liberation Sans", sans-serif' font-size="12.5" font-weight="normal" fill="#b2b5be" text-anchor="start" textLength="41.5" lengthAdjust="spacingAndGlyphs" stroke="#b2b5be" stroke-width="0.35">0.04500</text><text x="879" y="342.40" font-family='"Liberation Sans", sans-serif' font-size="12.5" font-weight="normal" fill="#b2b5be" text-anchor="start" textLength="41.5" lengthAdjust="spacingAndGlyphs" stroke="#b2b5be" stroke-width="0.35">0.04300</text><text x="879" y="397.64" font-family='"Liberation Sans", sans-serif' font-size="12.5" font-weight="normal" fill="#b2b5be" text-anchor="start" textLength="41.5" lengthAdjust="spacingAndGlyphs" stroke="#b2b5be" stroke-width="0.35">0.04200</text><text x="879" y="452.88" font-family='"Liberation Sans", sans-serif' font-size="12.5" font-weight="normal" fill="#b2b5be" text-anchor="start" textLength="41.5" lengthAdjust="spacingAndGlyphs" stroke="#b2b5be" stroke-width="0.35">0.04100</text><text x="879" y="508.12" font-family='"Liberation Sans", sans-serif' font-size="12.5" font-weight="normal" fill="#b2b5be" text-anchor="start" textLength="41.5" lengthAdjust="spacingAndGlyphs" stroke="#b2b5be" stroke-width="0.35">0.04000</text><path d="M869,192 H925 Q927,192 927,194 V207 Q927,209 925,209 H869 Z" fill="#f23645"/><text x="879" y="204.8" font-family='"Liberation Sans", sans-serif' font-size="12.5" font-weight="normal" fill="#ffffff" text-anchor="start" textLength="41.2" lengthAdjust="spacingAndGlyphs" stroke="#ffffff" stroke-width="0.55">0.04549</text><path d="M869,245 H925 Q927,245 927,247 V276 H869 Z" fill="#26a69a"/><text x="879" y="257.7" font-family='"Liberation Sans", sans-serif' font-size="12.5" font-weight="normal" fill="#ffffff" text-anchor="start" textLength="41.2" lengthAdjust="spacingAndGlyphs" stroke="#ffffff" stroke-width="0.55">0.04453</text><text x="879" y="271.6" font-family='"Liberation Sans", sans-serif' font-size="12.5" font-weight="normal" fill="#d4ece9" text-anchor="start" textLength="28.7" lengthAdjust="spacingAndGlyphs" stroke="#d4ece9" stroke-width="0.2">27:09</text><path d="M869,276 H927 V292 Q927,293.2 925.8,293.2 H869 Z" fill="#f23645"/><path d="M869,292.8 H925.8 Q927,292.8 927,294 V308 Q927,310 925,310 H869 Z" fill="#f23645"/><text x="879" y="288.8" font-family='"Liberation Sans", sans-serif' font-size="12.5" font-weight="normal" fill="#ffffff" text-anchor="start" textLength="41.2" lengthAdjust="spacingAndGlyphs" stroke="#ffffff" stroke-width="0.55">0.04443</text><text x="879" y="305.7" font-family='"Liberation Sans", sans-serif' font-size="12.5" font-weight="normal" fill="#ffffff" text-anchor="start" textLength="41.2" lengthAdjust="spacingAndGlyphs" stroke="#ffffff" stroke-width="0.55">0.04431</text><text x="4.30" y="540" font-family='"Liberation Sans", sans-serif' font-size="12.5" font-weight="normal" fill="#b2b5be" text-anchor="start" textLength="28.3" lengthAdjust="spacingAndGlyphs" stroke="#b2b5be" stroke-width="0.35">12:00</text><text x="91.85" y="540" font-family='"Liberation Sans", sans-serif' font-size="12.5" font-weight="normal" fill="#b2b5be" text-anchor="start" textLength="12.0" lengthAdjust="spacingAndGlyphs" stroke="#b2b5be" stroke-width="0.35">25</text><text x="164.30" y="540" font-family='"Liberation Sans", sans-serif' font-size="12.5" font-weight="normal" fill="#b2b5be" text-anchor="start" textLength="28.3" lengthAdjust="spacingAndGlyphs" stroke="#b2b5be" stroke-width="0.35">12:00</text><text x="251.90" y="540" font-family='"Liberation Sans", sans-serif' font-size="12.5" font-weight="normal" fill="#b2b5be" text-anchor="start" textLength="12.0" lengthAdjust="spacingAndGlyphs" stroke="#b2b5be" stroke-width="0.35">26</text><text x="324.45" y="540" font-family='"Liberation Sans", sans-serif' font-size="12.5" font-weight="normal" fill="#b2b5be" text-anchor="start" textLength="28.3" lengthAdjust="spacingAndGlyphs" stroke="#b2b5be" stroke-width="0.35">12:00</text><text x="412.30" y="540" font-family='"Liberation Sans", sans-serif' font-size="12.5" font-weight="normal" fill="#b2b5be" text-anchor="start" textLength="12.0" lengthAdjust="spacingAndGlyphs" stroke="#b2b5be" stroke-width="0.35">27</text><text x="483.30" y="540" font-family='"Liberation Sans", sans-serif' font-size="12.5" font-weight="normal" fill="#b2b5be" text-anchor="start" textLength="28.3" lengthAdjust="spacingAndGlyphs" stroke="#b2b5be" stroke-width="0.35">12:00</text><text x="572.30" y="540" font-family='"Liberation Sans", sans-serif' font-size="12.5" font-weight="normal" fill="#b2b5be" text-anchor="start" textLength="12.0" lengthAdjust="spacingAndGlyphs" stroke="#b2b5be" stroke-width="0.35">28</text><text x="643.30" y="540" font-family='"Liberation Sans", sans-serif' font-size="12.5" font-weight="normal" fill="#b2b5be" text-anchor="start" textLength="28.3" lengthAdjust="spacingAndGlyphs" stroke="#b2b5be" stroke-width="0.35">12:00</text><text x="730.90" y="540" font-family='"Liberation Sans", sans-serif' font-size="12.5" font-weight="normal" fill="#b2b5be" text-anchor="start" textLength="12.0" lengthAdjust="spacingAndGlyphs" stroke="#b2b5be" stroke-width="0.35">29</text><text x="802.75" y="540" font-family='"Liberation Sans", sans-serif' font-size="12.5" font-weight="normal" fill="#b2b5be" text-anchor="start" textLength="28.3" lengthAdjust="spacingAndGlyphs" stroke="#b2b5be" stroke-width="0.35">12:00</text><text transform="translate(8.3,20.9) scale(0.77,1)" font-family='"Liberation Sans", sans-serif' font-size="13.2" fill="#c4c7cf" stroke="#c4c7cf" stroke-width="0.55" textLength="225.3" lengthAdjust="spacing">ROSE / TetherUS, 30, BINANCE</text><text transform="translate(8.5,38.1) scale(0.78,1)" font-family='"Liberation Sans", sans-serif' font-size="13.2" fill="#bfc2ca" stroke="#bfc2ca" stroke-width="0.2" textLength="99.1" lengthAdjust="spacing">Объём · ROSE</text></svg>
</body></html>
